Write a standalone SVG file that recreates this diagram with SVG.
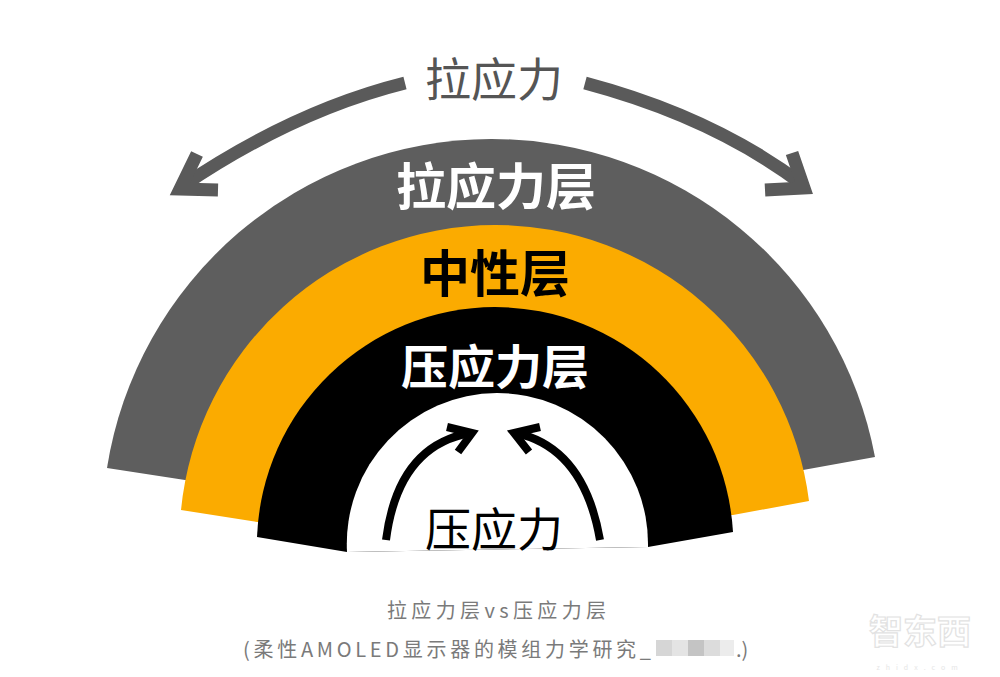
<svg xmlns="http://www.w3.org/2000/svg" width="1000" height="677" viewBox="0 0 1000 677">
<style>
.cjk{font-family:"Noto Sans CJK SC","Noto Sans",sans-serif;text-anchor:middle}
.big{font-size:50px;font-weight:700}
.garrow{fill:none;stroke:#5a5a5a;stroke-width:13;stroke-linejoin:miter;stroke-linecap:butt}
.barrow{fill:none;stroke:#000;stroke-width:8;stroke-linejoin:miter;stroke-linecap:butt}
.cap{font-family:"Noto Sans CJK SC","Noto Sans",sans-serif;font-size:20px;fill:#7a7a7a}
</style>
<rect width="1000" height="677" fill="#fff"/>
<g id="tension-layer">
<path d="M107,468 A390,390 0 0 1 491,139 A390,390 0 0 1 875,457 L803,470 L185,480 Z" fill="#5e5e5e"/>
<text class="cjk big" x="496" y="205" fill="#fff">拉应力层</text>
</g>
<g id="neutral-layer">
<path d="M181,510 A316,316 0 0 1 495,225 A316,316 0 0 1 809,501 L733,515 L257,522 Z" fill="#fbab00"/>
<text class="cjk big" x="495" y="292" fill="#000" font-size="52">中性层</text>
</g>
<g id="compression-layer">
<path d="M257,537 A239,239 0 0 1 495,307 A239,239 0 0 1 733,532 L648,547 L347,552 Z" fill="#000"/>
<path d="M347,552 A151,151 0 0 1 497,393 A151,151 0 0 1 648,547 Z" fill="#fff"/>
<text class="cjk" x="495" y="384" fill="#fff" font-size="47" font-weight="700">压应力层</text>
</g>
<g id="connectors">
<path class="garrow" d="M405,83 Q293,111 181,187"/>
<path class="garrow" d="M197,154 L180,189 L218,190"/>
<path class="garrow" d="M585,83 Q713,117 802,184"/>
<path class="garrow" d="M792,153 L804,188 L765,190"/>
<path class="barrow" d="M386,540 Q398,446 470,433"/>
<path class="barrow" d="M447,427 L472,433 L458,452"/>
<path class="barrow" d="M600,540 Q584,448 516,433"/>
<path class="barrow" d="M540,427 L514,433 L529,452"/>
</g>
<g id="tension-label">
<text class="cjk" x="494" y="96" font-size="46" fill="#555">拉应力</text>
</g>
<g id="compression-label">
<text class="cjk" x="494" y="546" font-size="46" fill="#000">压应力</text>
</g>
<g id="caption">
<text class="cap" x="387" y="618" textLength="219" lengthAdjust="spacing">拉应力层vs压应力层</text>
<text class="cap" x="243" y="657" textLength="408" lengthAdjust="spacing">(柔性AMOLED显示器的模组力学研究_</text>
<rect x="656" y="640" width="16" height="16" fill="#d6d6d6"/>
<rect x="672" y="640" width="16" height="16" fill="#e4e4e4"/>
<rect x="688" y="640" width="16" height="16" fill="#c4c4c4"/>
<rect x="704" y="640" width="16" height="16" fill="#dcdcdc"/>
<rect x="720" y="640" width="14" height="16" fill="#ececec"/>
<text class="cap" x="736" y="657">.)</text>
</g>
<g id="watermark">
<text class="cjk" x="920" y="644" font-size="34" font-weight="700" fill="#fff" stroke="#e2e2e2" stroke-width="1.2">智东西</text>
<text class="cjk" x="920" y="670" font-size="7" fill="#e6e6e6" letter-spacing="6">zhidx.com</text>
</g>
</svg>
